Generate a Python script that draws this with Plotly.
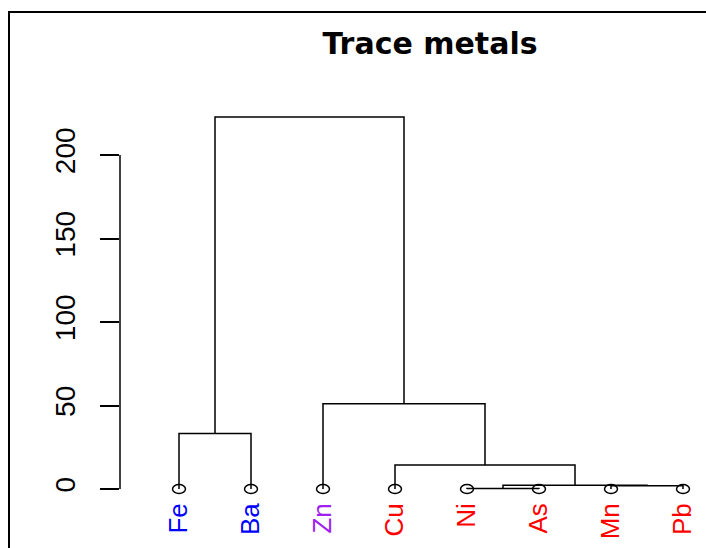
import plotly.graph_objects as go

# ---- data ----
leaf_labels = ["Fe", "Ba", "Zn", "Cu", "Ni", "As", "Mn", "Pb"]
leaf_colors = ["#0000FF", "#0000FF", "#A020F0", "#FF0000", "#FF0000", "#FF0000", "#FF0000", "#FF0000"]
merge_left = ["Ni", "Mn", "m1", "Cu", "Fe", "Zn", "m5"]
merge_right = ["As", "Pb", "m2", "m3", "Ba", "m4", "m6"]
merge_height = [0.3, 1.9, 2.2, 14.4, 33.3, 51.0, 222.8]
y_tick_vals = [0, 50, 100, 150, 200]
title_text = "Trace metals"

# ---- build dendrogram segments ----
nodes = {lab: (i + 1, 0.0) for i, lab in enumerate(leaf_labels)}
xs, ys = [], []
for k, (a, b, h) in enumerate(zip(merge_left, merge_right, merge_height)):
    xa, ha = nodes[a]
    xb, hb = nodes[b]
    xs += [xa, xa, xb, xb, None]
    ys += [ha, h, h, hb, None]
    nodes[f"m{k+1}"] = ((xa + xb) / 2, h)

W, H = 706, 548
ML = 120
px_per_unit_y = (489 - 155) / 200.0
y_top = 489 / px_per_unit_y
y_bot = -(H - 489) / px_per_unit_y
px_per_unit_x = 72.0
x_min = 1 - (179 - ML) / px_per_unit_x
x_max = x_min + (W - ML) / px_per_unit_x

FONT = "Liberation Sans"

fig = go.Figure()
fig.add_trace(go.Scatter(x=xs, y=ys, mode="lines",
                         line=dict(color="black", width=1.5),
                         hoverinfo="skip", showlegend=False))

shapes = []
# leaf circles
cw = 0.09
chh = 2.7
for i in range(len(leaf_labels)):
    shapes.append(dict(type="circle", xref="x", yref="y",
                       x0=i + 1 - cw, x1=i + 1 + cw, y0=-chh, y1=chh,
                       line=dict(color="black", width=1.5)))
# y axis line (0..200)
shapes.append(dict(type="line", xref="paper", yref="y",
                   x0=0, x1=0, y0=y_tick_vals[0], y1=y_tick_vals[-1],
                   line=dict(color="black", width=1.5)))
# outer frame (top & left visible)
shapes.append(dict(type="rect", xref="paper", yref="paper",
                   x0=(9 - ML) / (W - ML), x1=1.2,
                   y0=-0.2, y1=1 - 12 / H,
                   line=dict(color="black", width=2), fillcolor="rgba(0,0,0,0)"))

ticktext = [f'<span style="color:{c}">{l}</span>' for l, c in zip(leaf_labels, leaf_colors)]

fig.update_layout(
    width=W, height=H,
    margin=dict(l=ML, r=0, t=0, b=0, autoexpand=False),
    paper_bgcolor="white", plot_bgcolor="white",
    shapes=shapes,
    font=dict(family=FONT, color="black"),
    title=dict(text=f"<b>{title_text}</b>", xref="container", yref="container",
               x=430 / W, y=1 - 43 / H, xanchor="center", yanchor="middle",
               font=dict(family="DejaVu Sans", size=30, color="black")),
    xaxis=dict(range=[x_min, x_max], showgrid=False, zeroline=False, showline=False,
               tickmode="array", tickvals=list(range(1, len(leaf_labels) + 1)),
               ticktext=ticktext, tickangle=-90, ticks="",
               anchor="free", position=(H - 489) / H,
               tickfont=dict(family=FONT, size=26), ticklabelstandoff=8),
    yaxis=dict(range=[y_bot, y_top], showgrid=False, zeroline=False, showline=False,
               tickmode="array", tickvals=y_tick_vals,
               ticktext=[str(v) for v in y_tick_vals],
               ticks="outside", ticklen=19, tickwidth=1.5, tickcolor="black",
               tickangle=-90, tickfont=dict(family=FONT, size=28),
               ticklabelstandoff=14),
)

fig.write_html("out.html")
